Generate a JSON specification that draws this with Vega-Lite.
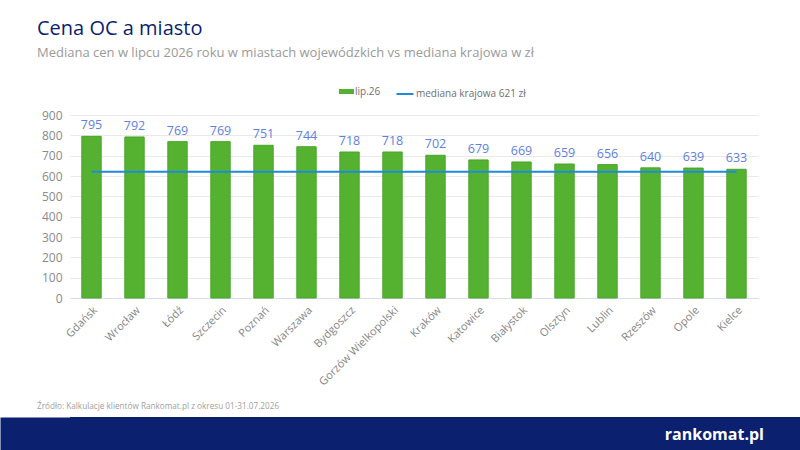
{
  "$schema": "https://vega.github.io/schema/vega-lite/v6.json",
  "background": "white",
  "padding": {"left": 0, "right": 0, "top": 19, "bottom": 0},
  "title": {
    "text": "Cena OC a miasto",
    "subtitle": "Mediana cen w lipcu 2026 roku w miastach wojewódzkich vs mediana krajowa w zł",
    "anchor": "start",
    "dx": 37,
    "font": "Open Sans",
    "fontSize": 20,
    "fontWeight": "normal",
    "color": "#0b1f6e",
    "subtitleFont": "Open Sans",
    "subtitleFontSize": 13,
    "subtitleColor": "#9a9a9a",
    "subtitlePadding": 8,
    "offset": 24
  },
  "spacing": 13,
  "datasets": {
    "miasta": [
      {"miasto": "Gdańsk", "cena": 795, "mediana": 621},
      {"miasto": "Wrocław", "cena": 792, "mediana": 621},
      {"miasto": "Łódź", "cena": 769, "mediana": 621},
      {"miasto": "Szczecin", "cena": 769, "mediana": 621},
      {"miasto": "Poznań", "cena": 751, "mediana": 621},
      {"miasto": "Warszawa", "cena": 744, "mediana": 621},
      {"miasto": "Bydgoszcz", "cena": 718, "mediana": 621},
      {"miasto": "Gorzów Wielkopolski", "cena": 718, "mediana": 621},
      {"miasto": "Kraków", "cena": 702, "mediana": 621},
      {"miasto": "Katowice", "cena": 679, "mediana": 621},
      {"miasto": "Białystok", "cena": 669, "mediana": 621},
      {"miasto": "Olsztyn", "cena": 659, "mediana": 621},
      {"miasto": "Lublin", "cena": 656, "mediana": 621},
      {"miasto": "Rzeszów", "cena": 640, "mediana": 621},
      {"miasto": "Opole", "cena": 639, "mediana": 621},
      {"miasto": "Kielce", "cena": 633, "mediana": 621}
    ]
  },
  "vconcat": [
    {
      "width": 688,
      "height": 183,
      "data": {"name": "miasta"},
      "encoding": {
        "x": {
          "field": "miasto",
          "type": "nominal",
          "sort": null,
          "title": null,
          "scale": {"paddingInner": 0.55, "paddingOuter": 0.275},
          "axis": {
            "labelAngle": -45,
            "labelFont": "Open Sans",
            "labelFontSize": 11,
            "labelColor": "#858585",
            "labelPadding": 6,
            "ticks": false,
            "domainColor": "#d6ddf2",
            "domainWidth": 1
          }
        }
      },
      "layer": [
        {
          "mark": {"type": "bar", "stroke": "#48a42a", "strokeWidth": 1},
          "encoding": {
            "y": {
              "field": "cena",
              "type": "quantitative",
              "title": null,
              "scale": {"domain": [0, 900], "nice": false},
              "axis": {
                "values": [0, 100, 200, 300, 400, 500, 600, 700, 800, 900],
                "labelOverlap": false,
                "labelFont": "Open Sans",
                "labelFontSize": 12,
                "labelColor": "#8a8a8a",
                "labelPadding": 8,
                "ticks": false,
                "domain": false,
                "gridColor": "#e9e9e9",
                "minExtent": 70
              }
            },
            "fill": {
              "datum": "lip.26",
              "scale": {"range": ["#55b231"]},
              "legend": {
                "symbolType": "M-1,-0.33H1V0.33H-1Z",
                "symbolSize": 225,
                "symbolStrokeWidth": 0,
                "symbolOffset": 36
              }
            }
          }
        },
        {
          "mark": {"type": "text", "dy": -11, "color": "#5e80e2", "font": "Open Sans", "fontSize": 12.5},
          "encoding": {
            "y": {
              "field": "cena",
              "type": "quantitative",
              "title": null,
              "axis": {
                "values": [0, 100, 200, 300, 400, 500, 600, 700, 800, 900],
                "labelOverlap": false,
                "ticks": false,
                "domain": false,
                "minExtent": 70
              }
            },
            "text": {"field": "cena", "type": "quantitative"}
          }
        },
        {
          "mark": {"type": "line", "strokeWidth": 2},
          "encoding": {
            "y": {
              "field": "mediana",
              "type": "quantitative",
              "title": null,
              "axis": {
                "values": [0, 100, 200, 300, 400, 500, 600, 700, 800, 900],
                "labelOverlap": false,
                "ticks": false,
                "domain": false,
                "minExtent": 70
              }
            },
            "stroke": {
              "datum": "mediana krajowa 621 zł",
              "scale": {"range": ["#1f8ad8"]},
              "legend": {"symbolType": "stroke", "symbolSize": 290, "symbolStrokeWidth": 2}
            }
          }
        }
      ],
      "resolve": {"legend": {"fill": "independent", "stroke": "independent"}}
    },
    {
      "width": 730,
      "height": 35,
      "view": {"fill": "#0b2170", "stroke": null},
      "data": {"values": [{"logo": "rankomat.pl"}]},
      "title": {
        "text": "Źródło: Kalkulacje klientów Rankomat.pl z okresu 01-31.07.2026",
        "anchor": "start",
        "frame": "group",
        "dx": -33,
        "font": "Open Sans",
        "fontSize": 8.2,
        "fontWeight": "normal",
        "color": "#a0a0a0",
        "offset": 6
      },
      "mark": {"type": "text", "align": "right", "baseline": "middle", "dx": -36, "color": "white", "font": "Open Sans", "fontWeight": "bold", "fontSize": 16},
      "encoding": {
        "x": {"datum": 1, "type": "quantitative", "scale": {"domain": [0, 1]}, "axis": null},
        "y": {
          "datum": 0.5,
          "type": "quantitative",
          "scale": {"domain": [0, 1]},
          "axis": {
            "title": null,
            "labels": false,
            "ticks": false,
            "grid": false,
            "domainColor": "#0b2170",
            "domainWidth": 140
          }
        },
        "text": {"field": "logo", "type": "nominal"}
      }
    }
  ],
  "config": {
    "view": {"stroke": null},
    "legend": {
      "orient": "top",
      "title": null,
      "labelFont": "Open Sans",
      "labelFontSize": 10,
      "labelColor": "#6f6f6f",
      "labelOffset": 1,
      "offset": 16,
      "layout": {"top": {"anchor": "middle", "margin": 14}}
    }
  }
}
